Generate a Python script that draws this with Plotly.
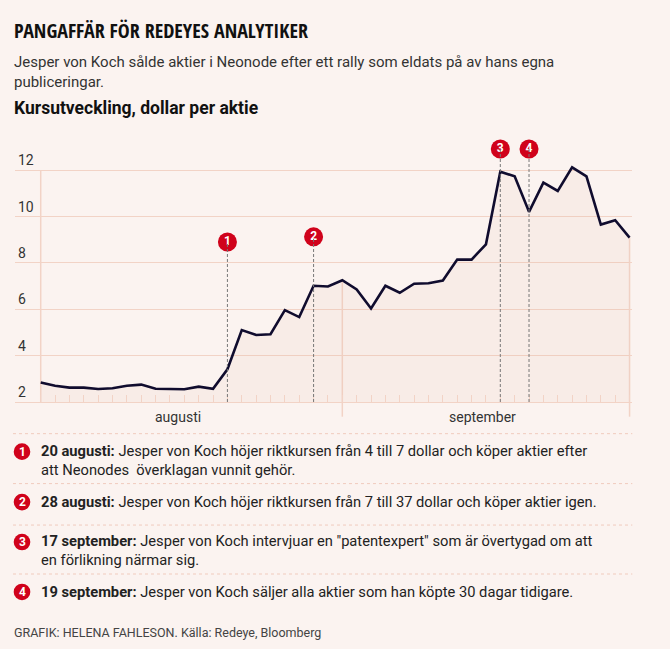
import plotly.graph_objects as go

# Neonode, stängningskurs i dollar per aktie, handelsdagar aug-sep 2018
dagar = ["1 aug", "2 aug", "3 aug", "6 aug", "7 aug", "8 aug", "9 aug", "10 aug",
         "13 aug", "14 aug", "15 aug", "16 aug", "17 aug", "20 aug", "21 aug",
         "22 aug", "23 aug", "24 aug", "27 aug", "28 aug", "29 aug", "30 aug",
         "31 aug", "4 sep", "5 sep", "6 sep", "7 sep", "10 sep", "11 sep",
         "12 sep", "13 sep", "14 sep", "17 sep", "18 sep", "19 sep", "20 sep",
         "21 sep", "24 sep", "25 sep", "26 sep", "27 sep", "28 sep"]
kurs = [2.84, 2.70, 2.62, 2.62, 2.56, 2.59, 2.70, 2.75, 2.57, 2.57,
        2.55, 2.66, 2.57, 3.41, 5.10, 4.89, 4.92, 5.96, 5.66, 7.01,
        6.98, 7.25, 6.85, 6.03, 7.01, 6.71, 7.10, 7.12, 7.24, 8.14,
        8.14, 8.80, 11.93, 11.73, 10.20, 11.46, 11.10, 12.12, 11.73, 9.65,
        9.84, 9.09]

y_ticks = [2, 4, 6, 8, 10, 12]
manader = ["augusti", "september"]
manad_grans = [0, 21, 41]

# händelser
handelse_dag = [13, 19, 32, 34]
handelse_nr = ["1", "2", "3", "4"]
handelse_datum = ["20 augusti", "28 augusti", "17 september", "19 september"]
handelse_text = [
    "Jesper von Koch höjer riktkursen från 4 till 7 dollar och köper aktier efter<br>att Neonodes  överklagan vunnit gehör.",
    "Jesper von Koch höjer riktkursen från 7 till 37 dollar och köper aktier igen.",
    "Jesper von Koch intervjuar en \"patentexpert\" som är övertygad om att<br>en förlikning närmar sig.",
    "Jesper von Koch säljer alla aktier som han köpte 30 dagar tidigare.",
]

# layout / stil (koordinater i pixlar)
W, H = 670, 649
PL, PR, PT, PB = 15, 631.7, 140, 402.3
BG = "#fbf3f0"
GRID = "#f2d3c6"
RED = "#d0021b"
LINE = "#100c2e"
TXT = "#333333"
BODY = "Roboto, Lato, sans-serif"
HEAD = "Open Sans Condensed, Roboto Condensed, sans-serif"

Y0, Y1 = 2, 2 + (PB - PT) / 23.22
X0, X1 = -1.79, 41.17
markor_hojd = [8.90, 9.12, 12.91, 12.91]  # var siffrorna sitter i diagrammet


def px(x):
    return (x - PL) / (PR - PL)


def py(y):
    return (PB - y) / (PB - PT)


def yp(v):
    return (v - Y0) / (Y1 - Y0)


fig = go.Figure()

fig.add_trace(go.Scatter(
    x=list(range(len(kurs))), y=kurs, text=dagar, mode="lines",
    line=dict(color=LINE, width=2.6), fill="tozeroy",
    fillcolor="rgba(225,175,160,0.10)", hoverinfo="text+y",
))

fig.add_trace(go.Scatter(
    x=handelse_dag, y=markor_hojd, mode="markers+text", text=handelse_nr,
    textposition="middle center", cliponaxis=False,
    marker=dict(size=19, color=RED),
    textfont=dict(color="white", size=12, family="Roboto", weight="bold"),
    hoverinfo="skip",
))

shapes = []
# vänsterkant, månadsgräns, högerkant
shapes.append(dict(type="line", xref="x", yref="y", x0=manad_grans[0], x1=manad_grans[0],
                   y0=2, y1=12, line=dict(color=GRID, width=1.5), layer="below"))
for i in manad_grans[1:]:
    shapes.append(dict(type="line", xref="x", yref="paper", x0=i, x1=i,
                       y0=py(417), y1=yp(kurs[i]), line=dict(color=GRID, width=1.5),
                       layer="below"))
# streckade händelselinjer
for d, h in zip(handelse_dag, markor_hojd):
    shapes.append(dict(type="line", xref="x", yref="y", x0=d, x1=d, y0=2, y1=h,
                       line=dict(color="#777777", width=1, dash="3px,2px")))

# prickade avdelare i listan
for y in [434, 484, 525.5, 574.5]:
    shapes.append(dict(type="line", xref="paper", yref="paper", x0=px(13), x1=px(632),
                       y0=py(y), y1=py(y), line=dict(color="#f0cbbd", width=1, dash="3px,3px")))

# röda cirklar i listan
rad_y = [452, 502.5, 542.5, 592.5]
for y in rad_y:
    shapes.append(dict(type="circle", xref="paper", yref="paper",
                       x0=px(22 - 8.3), x1=px(22 + 8.3), y0=py(y + 8.3), y1=py(y - 8.3),
                       fillcolor=RED, line=dict(width=0)))

ann = []


def txt(x, y, s, size, color=TXT, family=BODY, xanchor="left"):
    ann.append(dict(x=px(x), y=py(y), xref="paper", yref="paper", text=s,
                    showarrow=False, xanchor=xanchor, yanchor="middle", align="left",
                    font=dict(size=size, color=color, family=family)))


txt(12, 30, "<b>PANGAFFÄR FÖR REDEYES ANALYTIKER</b>", 20, "#111111", HEAD)
txt(12, 72, "Jesper von Koch sålde aktier i Neonode efter ett rally som eldats på av hans egna<br>publiceringar.", 15)
txt(12, 108, "<b>Kursutveckling, dollar per aktie</b>", 17.5, "#111111")

txt(178, 417.5, manader[0], 14, xanchor="center")
txt(482.7, 417.5, manader[1], 14, xanchor="center")

for nr, y in zip(handelse_nr, rad_y):
    txt(22, y, "<b>" + nr + "</b>", 12, "white", "Roboto", xanchor="center")

for d, t, y in zip(handelse_datum, handelse_text, rad_y):
    rows = t.count("<br>")
    txt(39, y + rows * 8.8, "<b>" + d + ":</b> " + t, 14.7, "#222222")

txt(12, 633, "GRAFIK: HELENA FAHLESON. Källa: Redeye, Bloomberg", 12.5, "#444444")

fig.update_layout(
    width=W, height=H, autosize=False,
    margin=dict(l=PL, r=W - PR, t=PT, b=H - PB, pad=0),
    paper_bgcolor=BG, plot_bgcolor=BG,
    showlegend=False,
    shapes=shapes, annotations=ann,
    xaxis=dict(range=[X0, X1], showgrid=False, zeroline=False,
               tickvals=list(range(len(kurs))), ticks="inside", ticklen=7,
               tickcolor=GRID, tickwidth=1.2, showticklabels=False,
               showline=True, linecolor=GRID, linewidth=1.3),
    yaxis=dict(range=[Y0, Y1], tickvals=y_ticks, showgrid=True, gridcolor=GRID,
               gridwidth=1.3, zeroline=False, ticks="",
               ticklabelposition="inside top",
               tickfont=dict(size=14, color=TXT, family=BODY)),
)

# sidans egen marginal bort, så att grafiken fyller fönstret
fig.write_html("out.html", config={"displayModeBar": False},
               post_script="document.body.style.margin='0';"
                           "document.body.style.background='" + BG + "';")
